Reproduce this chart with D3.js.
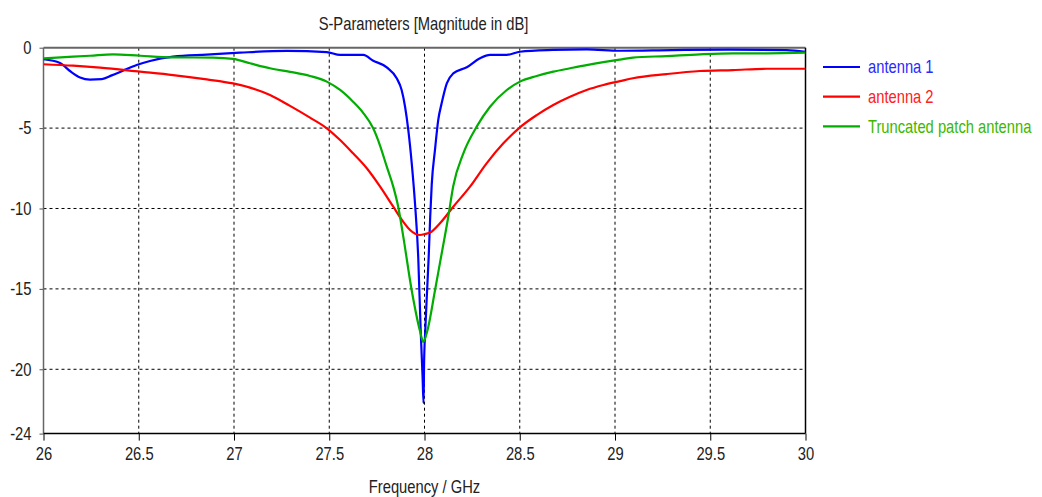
<!DOCTYPE html>
<html>
<head>
<meta charset="utf-8">
<script src="https://cdn.jsdelivr.net/npm/d3@7"></script>
<style>
  body { margin: 0; background: #fff; }
  text { font-family: "Liberation Sans", Arial, sans-serif; fill: #222; }
</style>
</head>
<body>
<script>
const width = 1042;
const height = 497;
const margin = { top: 47.7, right: 236.5, bottom: 63.4, left: 43.5 };
const board = {
  width: width - margin.left - margin.right,
  height: height - margin.top - margin.bottom,
};
const squeeze = 0.82;

const xTicks = [26, 26.5, 27, 27.5, 28, 28.5, 29, 29.5, 30];
const yTicks = [0, -5, -10, -15, -20, -24];
const names = ['antenna 1', 'antenna 2', 'Truncated patch antenna'];

const antenna1Freq = [26.000, 26.087, 26.139, 26.192, 26.244, 26.306, 26.358, 26.417, 26.489, 26.559, 26.680, 26.857, 27.031, 27.277, 27.487, 27.557, 27.679, 27.731, 27.802, 27.854, 27.880, 27.898, 27.915, 27.933, 27.950, 27.967, 27.980, 27.990, 27.995, 27.998, 28.004, 28.012, 28.022, 28.030, 28.038, 28.055, 28.072, 28.090, 28.117, 28.151, 28.222, 28.291, 28.344, 28.432, 28.501, 28.676, 28.851, 29.026, 29.300, 29.600, 29.900, 30.000];
const antenna1Db = [-0.72, -0.95, -1.45, -1.85, -1.98, -1.95, -1.72, -1.43, -1.08, -0.83, -0.56, -0.43, -0.31, -0.20, -0.27, -0.45, -0.45, -0.81, -1.22, -1.90, -2.63, -3.67, -5.12, -7.19, -9.66, -13.0, -17.6, -20.5, -22.1, -19.5, -17.6, -15.5, -13.0, -10.5, -8.5, -6.36, -4.50, -3.46, -2.22, -1.60, -1.22, -0.66, -0.45, -0.45, -0.25, -0.14, -0.10, -0.19, -0.15, -0.12, -0.15, -0.25];

const antenna2Freq = [26.000, 26.155, 26.297, 26.507, 26.680, 26.857, 26.995, 27.084, 27.189, 27.294, 27.399, 27.487, 27.557, 27.625, 27.697, 27.767, 27.836, 27.888, 27.924, 27.976, 28.005, 28.029, 28.081, 28.151, 28.239, 28.326, 28.414, 28.501, 28.589, 28.676, 28.764, 28.851, 28.939, 29.026, 29.094, 29.271, 29.446, 29.619, 29.796, 30.000];
const antenna2Db = [-1.03, -1.12, -1.24, -1.49, -1.70, -1.97, -2.22, -2.48, -2.94, -3.62, -4.35, -5.01, -5.74, -6.57, -7.50, -8.64, -9.89, -10.82, -11.34, -11.65, -11.58, -11.50, -10.92, -9.89, -8.64, -7.19, -5.95, -4.95, -4.19, -3.56, -3.05, -2.63, -2.32, -2.08, -1.90, -1.64, -1.45, -1.39, -1.31, -1.31];

const patchFreq = [26.000, 26.155, 26.244, 26.365, 26.507, 26.680, 26.890, 26.995, 27.084, 27.189, 27.294, 27.399, 27.487, 27.557, 27.625, 27.678, 27.730, 27.767, 27.802, 27.836, 27.862, 27.888, 27.933, 27.976, 27.994, 28.015, 28.055, 28.081, 28.125, 28.151, 28.204, 28.274, 28.344, 28.432, 28.501, 28.589, 28.676, 28.764, 28.851, 28.939, 29.026, 29.094, 29.271, 29.446, 29.619, 29.796, 30.000];
const patchDb = [-0.66, -0.56, -0.50, -0.41, -0.50, -0.60, -0.62, -0.70, -0.97, -1.28, -1.50, -1.76, -2.11, -2.63, -3.36, -4.05, -5.0, -6.1, -7.40, -8.64, -9.89, -11.7, -15.1, -17.6, -18.3, -17.6, -15.1, -13.4, -10.5, -8.6, -6.57, -4.91, -3.67, -2.63, -2.11, -1.76, -1.49, -1.28, -1.08, -0.90, -0.74, -0.62, -0.52, -0.41, -0.35, -0.35, -0.31];

const colors = ['#0000ff', '#ff0000', '#00ad00'];
const textColors = ['#2a2aff', '#ff2020', '#3cb800'];

const series = [
  antenna1Freq.map((f, i) => ({ f: f, v: antenna1Db[i] })),
  antenna2Freq.map((f, i) => ({ f: f, v: antenna2Db[i] })),
  patchFreq.map((f, i) => ({ f: f, v: patchDb[i] })),
];

const svg = d3.select('body')
  .append('svg')
    .attr('width', width)
    .attr('height', height)
    .style('display', 'block');

const x = d3.scaleLinear()
  .domain([26, 30])
  .range([0, board.width]);

const y = d3.scaleLinear()
  .domain([-24, 0])
  .range([board.height, 0]);

const g = svg.append('g')
  .attr('transform', `translate(${margin.left},${margin.top})`);

// grid
g.append('g')
  .selectAll('line')
  .data(xTicks.slice(1, -1))
  .enter()
    .append('line')
    .attr('x1', d => x(d)).attr('x2', d => x(d))
    .attr('y1', 0).attr('y2', board.height)
    .attr('stroke', '#000')
    .attr('stroke-dasharray', '3,3');

g.append('g')
  .selectAll('line')
  .data(yTicks.slice(1, -1))
  .enter()
    .append('line')
    .attr('x1', 0).attr('x2', board.width)
    .attr('y1', d => y(d)).attr('y2', d => y(d))
    .attr('stroke', '#000')
    .attr('stroke-dasharray', '3,3');

// axes (plain hyphen for negatives, like the original)
const xAxis = d3.axisBottom(x)
  .tickValues(xTicks)
  .tickFormat(d => String(d))
  .tickSizeInner(7)
  .tickSizeOuter(0)
  .tickPadding(7);

const yAxis = d3.axisLeft(y)
  .tickValues(yTicks)
  .tickFormat(d => String(d))
  .tickSizeInner(4)
  .tickSizeOuter(0)
  .tickPadding(8);

const gx = g.append('g')
  .attr('transform', `translate(0,${board.height})`)
  .call(xAxis);

const gy = g.append('g')
  .call(yAxis);

[gx, gy].forEach(a => {
  a.select('.domain').remove();
  a.selectAll('text')
    .attr('font-family', null)
    .attr('font-size', null)
    .style('font-size', '18px')
    .attr('fill', '#222');
});
gx.selectAll('.tick line').attr('stroke', '#000');
gy.selectAll('.tick line').attr('stroke', '#555');

g.append('line')
  .attr('x1', 0).attr('x2', board.width)
  .attr('y1', 0).attr('y2', 0)
  .attr('stroke', '#666').attr('stroke-width', 2);
g.append('line')
  .attr('x1', 0).attr('x2', 0)
  .attr('y1', 0).attr('y2', board.height)
  .attr('stroke', '#666').attr('stroke-width', 1.5);
g.append('line')
  .attr('x1', board.width).attr('x2', board.width)
  .attr('y1', 0).attr('y2', board.height)
  .attr('stroke', '#000').attr('stroke-width', 1.5);
g.append('line')
  .attr('x1', 0).attr('x2', board.width)
  .attr('y1', board.height).attr('y2', board.height)
  .attr('stroke', '#000').attr('stroke-width', 1.5);

// curves
svg.append('clipPath')
  .attr('id', 'plot-clip')
  .append('rect')
    .attr('x', 0).attr('y', -1)
    .attr('width', board.width)
    .attr('height', board.height + 1);

const line = d3.line()
  .curve(d3.curveMonotoneX)
  .x(d => x(d.f))
  .y(d => y(d.v));

g.append('g')
  .attr('clip-path', 'url(#plot-clip)')
  .selectAll('path')
  .data(series)
  .enter()
    .append('path')
    .attr('fill', 'none')
    .attr('stroke', (d, i) => colors[i])
    .attr('stroke-width', 2.2)
    .attr('d', d => line(d));

// titles
svg.append('text')
  .attr('x', margin.left + x(28) - 1)
  .attr('y', 30)
  .attr('text-anchor', 'middle')
  .style('font-size', '18px')
  .text('S-Parameters [Magnitude in dB]');

svg.append('text')
  .attr('x', margin.left + x(28))
  .attr('y', 493)
  .attr('text-anchor', 'middle')
  .style('font-size', '18px')
  .text('Frequency / GHz');

// legend
const legend = svg.append('g')
  .attr('transform', 'translate(823,67)');

const item = legend.selectAll('g')
  .data(names)
  .enter()
    .append('g')
    .attr('transform', (d, i) => `translate(0,${i * 29.7})`);

item.append('line')
  .attr('x1', 0).attr('x2', 37)
  .attr('stroke', (d, i) => colors[i])
  .attr('stroke-width', 2.2);

item.append('text')
  .attr('x', 45)
  .attr('dy', '0.35em')
  .style('font-size', '18px')
  .style('fill', (d, i) => textColors[i])
  .text(d => d);

// narrow look of the original font: squeeze each text about its anchor
svg.selectAll('text').each(function() {
  const ax = +(this.getAttribute('x') || 0);
  d3.select(this)
    .attr('transform', `translate(${ax},0) scale(${squeeze},1) translate(${-ax},0)`);
});
</script>
</body>
</html>
